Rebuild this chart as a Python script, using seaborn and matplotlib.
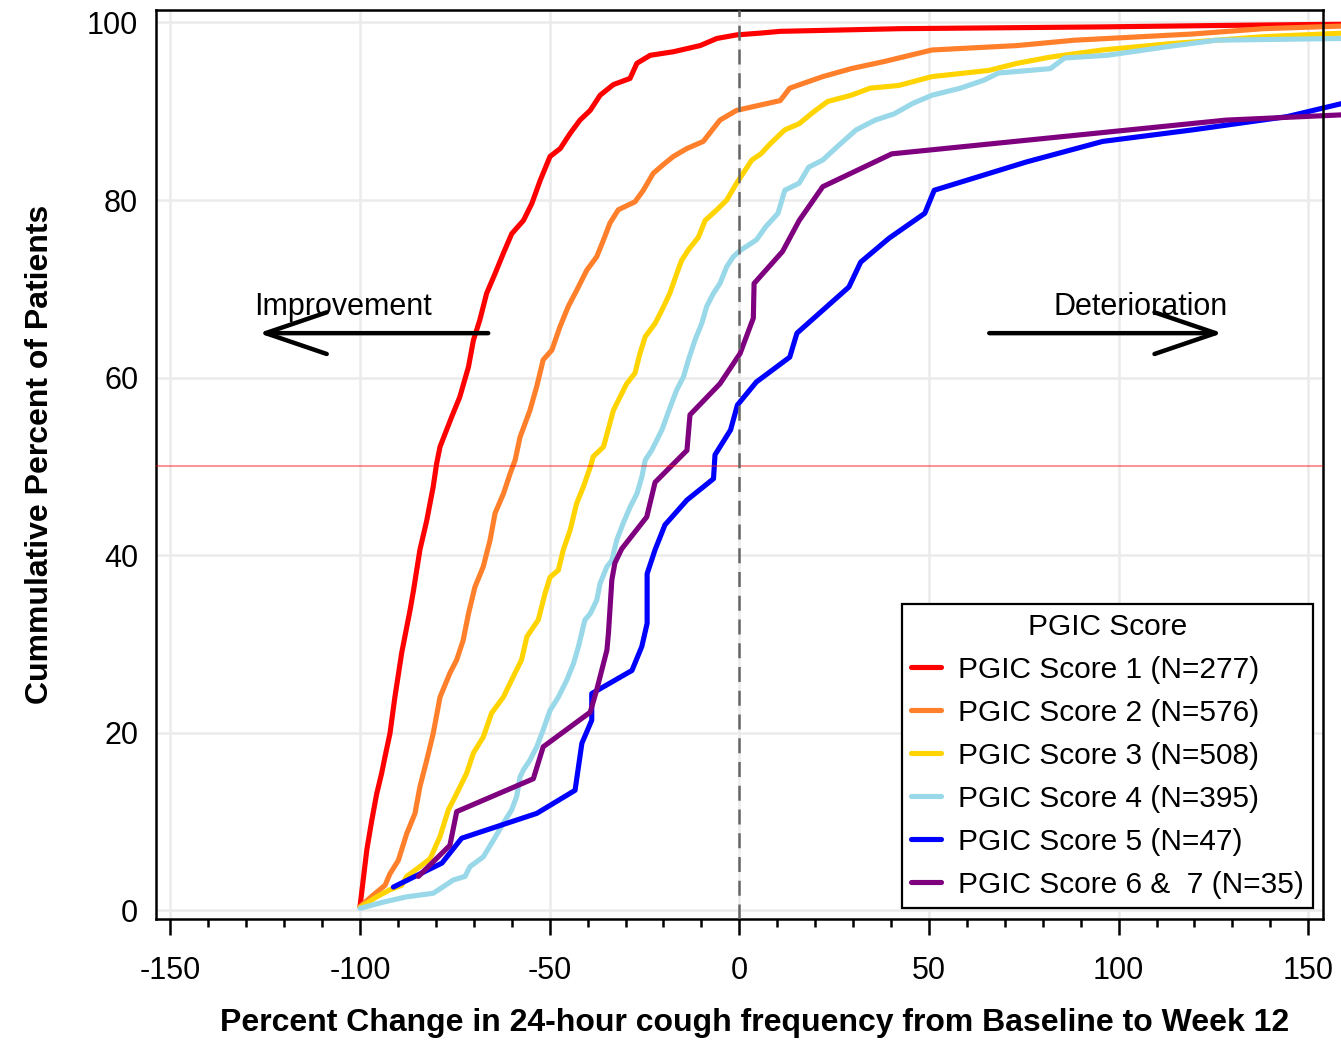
import numpy as np
import pandas as pd
import matplotlib
matplotlib.use("Agg")
import matplotlib.pyplot as plt
import seaborn as sns
from matplotlib.ticker import MultipleLocator

# Cumulative distribution of percent change in 24-hour cough frequency,
# by PGIC score group (x = percent change, y = cumulative percent of patients)
groups = [
    "PGIC Score 1 (N=277)",
    "PGIC Score 2 (N=576)",
    "PGIC Score 3 (N=508)",
    "PGIC Score 4 (N=395)",
    "PGIC Score 5 (N=47)",
    "PGIC Score 6 &  7 (N=35)",
]
colors = ["#FF0000", "#FF7F2A", "#FFD400", "#99D8E8", "#0000FF", "#7F007F"]

score1_x = [-100.0, -98.2, -96.9, -95.6, -94.3, -93.4, -92.1, -90.8, -89.0, -86.8, -85.9, -84.2,
            -82.4, -80.7, -79.8, -78.9, -75.8, -73.7, -71.4, -70.1, -68.4, -66.6, -64.4, -62.2,
            -60.0, -56.9, -54.7, -52.5, -49.9, -47.2, -44.6, -42.0, -39.3, -36.7, -33.2, -28.8,
            -27.0, -23.5, -17.4, -10.3, -5.9, -0.7, 5.5, 10.8, 42.4, 95.1, 134.7, 158.7]
score1_y = [0.4, 6.8, 10.1, 13.1, 15.4, 17.3, 19.9, 24.0, 29.0, 33.8, 36.0, 40.6,
            43.9, 47.7, 50.3, 52.2, 55.6, 57.8, 61.2, 64.2, 66.5, 69.5, 71.7, 74.0,
            76.2, 77.7, 79.6, 82.2, 84.9, 85.8, 87.5, 89.0, 90.1, 91.8, 93.0, 93.7,
            95.4, 96.3, 96.7, 97.4, 98.2, 98.6, 98.8, 99.0, 99.3, 99.5, 99.7, 99.8]

score2_x = [-100.0, -96.5, -93.4, -92.1, -89.9, -87.7, -85.5, -84.2, -82.4, -80.7, -78.9, -76.3,
            -74.5, -72.8, -71.4, -69.7, -67.5, -65.7, -64.4, -62.2, -60.4, -59.1, -57.8, -55.2,
            -53.4, -51.7, -49.4, -47.3, -45.1, -42.9, -40.2, -37.6, -35.8, -34.1, -31.9, -27.5,
            -25.3, -22.7, -20.0, -17.4, -13.8, -9.5, -5.1, -0.7, 10.8, 13.3, 22.0, 29.5,
            38.2, 50.8, 73.3, 88.3, 119.4, 138.2, 159.3]
score2_y = [0.4, 1.7, 2.8, 4.1, 5.6, 8.6, 10.9, 13.9, 16.9, 19.9, 24.0, 26.7,
            28.2, 30.4, 33.4, 36.4, 38.7, 41.7, 44.7, 46.9, 49.2, 50.7, 53.3, 56.3,
            59.0, 62.0, 63.1, 65.7, 68.0, 69.8, 72.1, 73.6, 75.5, 77.4, 78.9, 79.8,
            81.1, 83.0, 84.0, 84.9, 85.8, 86.6, 89.0, 90.1, 91.2, 92.6, 93.9, 94.8,
            95.6, 96.9, 97.4, 98.0, 98.7, 99.3, 99.6]

score3_x = [-100.0, -95.6, -92.1, -89.0, -87.7, -84.2, -81.5, -78.9, -76.7, -74.9, -71.9, -70.1,
            -67.5, -65.3, -62.2, -59.6, -57.4, -56.0, -53.0, -51.2, -49.9, -47.7, -46.4, -44.6,
            -42.9, -41.1, -39.3, -38.5, -35.8, -33.2, -29.7, -27.5, -26.2, -24.8, -22.2, -20.4,
            -18.3, -16.5, -15.2, -13.4, -10.8, -9.0, -5.9, -3.3, -0.7, 3.3, 5.7, 8.3,
            12.0, 15.8, 19.5, 23.3, 29.5, 34.5, 42.0, 50.8, 65.8, 73.3, 82.0, 95.7,
            113.3, 125.7, 138.3, 159.2]
score3_y = [0.3, 1.5, 2.3, 2.8, 3.8, 4.9, 5.8, 8.3, 11.3, 12.8, 15.4, 17.7,
            19.5, 22.2, 24.0, 26.3, 28.2, 30.8, 32.7, 35.7, 37.5, 38.3, 40.6, 42.8,
            45.8, 47.7, 49.9, 51.1, 52.2, 56.3, 59.3, 60.5, 62.7, 64.6, 66.1, 67.6,
            69.5, 71.7, 73.2, 74.4, 75.8, 77.7, 78.9, 80.0, 81.9, 84.5, 85.2, 86.4,
            87.9, 88.6, 89.9, 91.1, 91.8, 92.6, 92.9, 93.9, 94.6, 95.4, 96.1, 96.9,
            97.6, 98.0, 98.4, 98.8]

score4_x = [-100.0, -93.9, -87.7, -80.7, -78.9, -75.4, -72.3, -71.0, -67.5, -64.8, -62.2, -60.0,
            -58.7, -57.8, -56.9, -55.2, -53.4, -51.7, -49.9, -47.7, -45.5, -43.7, -42.4, -40.7,
            -39.3, -37.6, -36.7, -34.9, -33.6, -32.3, -30.6, -28.8, -27.0, -25.7, -24.8, -23.1,
            -20.4, -18.2, -16.5, -14.7, -13.4, -11.7, -9.9, -8.6, -6.8, -5.1, -3.3, -1.6,
            0.2, 4.5, 7.0, 10.2, 12.0, 15.8, 18.3, 22.0, 25.8, 30.8, 35.8, 40.8,
            45.8, 50.8, 58.3, 64.5, 68.3, 82.0, 85.8, 97.0, 113.3, 125.7, 159.2]
score4_y = [0.2, 0.9, 1.5, 1.9, 2.4, 3.4, 3.8, 4.9, 6.0, 7.9, 9.8, 11.3,
            12.8, 15.0, 15.8, 16.9, 18.4, 20.3, 22.5, 24.0, 25.9, 27.8, 29.7, 32.7,
            33.4, 34.9, 36.8, 38.7, 39.4, 41.7, 43.6, 45.4, 46.9, 48.8, 50.7, 51.8,
            54.1, 56.7, 58.6, 60.1, 62.0, 64.2, 66.1, 68.0, 69.5, 70.6, 72.5, 73.6,
            74.3, 75.5, 77.0, 78.5, 81.1, 81.9, 83.7, 84.5, 86.0, 87.9, 89.0, 89.7,
            90.9, 91.8, 92.6, 93.5, 94.3, 94.8, 96.0, 96.3, 97.3, 98.0, 98.2]

score5_x = [-91.2, -78.4, -73.2, -53.4, -43.3, -41.5, -38.9, -38.9, -28.3, -25.7, -24.3, -24.3,
            -22.2, -19.6, -13.8, -6.8, -6.4, -2.3, -0.5, 4.5, 13.3, 15.2, 28.9, 32.0,
            39.5, 48.9, 51.4, 75.8, 95.8, 119.5, 144.5, 159.2]
score5_y = [2.6, 5.3, 8.1, 10.9, 13.5, 18.8, 21.4, 24.4, 27.0, 29.7, 32.3, 37.9,
            40.6, 43.4, 46.2, 48.6, 51.3, 54.1, 56.9, 59.5, 62.3, 65.0, 70.2, 73.0,
            75.7, 78.5, 81.1, 84.3, 86.6, 87.9, 89.4, 90.9]

score67_x = [-84.6, -76.3, -74.5, -54.3, -51.7, -39.3, -37.6, -34.9, -34.5, -33.6, -32.8, -31.0,
             -24.4, -22.2, -13.8, -13.0, -5.1, 0.2, 3.7, 3.9, 11.4, 15.8, 22.0, 40.2,
             128.3, 159.2]
score67_y = [3.8, 7.3, 11.1, 14.8, 18.4, 22.3, 24.8, 29.3, 31.2, 37.2, 39.1, 40.7,
             44.3, 48.2, 51.8, 55.8, 59.3, 62.7, 66.7, 70.6, 74.2, 77.7, 81.5, 85.2,
             89.0, 89.6]

x_ticks = [-150, -100, -50, 0, 50, 100, 150]
y_ticks = [0, 20, 40, 60, 80, 100]

series_x = [score1_x, score2_x, score3_x, score4_x, score5_x, score67_x]
series_y = [score1_y, score2_y, score3_y, score4_y, score5_y, score67_y]

frames = []
for name, xs, ys in zip(groups, series_x, series_y):
    frames.append(pd.DataFrame({"change": xs, "cum_pct": ys, "PGIC Score": name}))
df = pd.concat(frames, ignore_index=True)

sns.set_theme(style="white", rc={
    "axes.edgecolor": "black",
    "axes.labelcolor": "black",
    "text.color": "black",
    "xtick.color": "black",
    "ytick.color": "black",
    "axes.unicode_minus": False,
})
plt.rcParams["font.family"] = ["Liberation Sans", "DejaVu Sans"]

fig = plt.figure(figsize=(13.41, 10.46), dpi=100)
ax = fig.add_axes([0.116, 0.1214, 0.8706, 0.869])

sns.lineplot(data=df, x="change", y="cum_pct", hue="PGIC Score",
             palette=dict(zip(groups, colors)), hue_order=groups,
             sort=False, estimator=None, linewidth=3.7, ax=ax)
for ln in ax.lines:
    ln.set_clip_on(False)

# reference lines: median and no-change
ax.axhline(50, color="#FF0000", alpha=0.5, lw=1.2, zorder=5)
ax.axvline(0, color="#666666", lw=1.8, dashes=(6, 3.5), zorder=5)

ax.set_xlim(-153.9, 153.9)
ax.set_ylim(-1.0, 101.4)
ax.set_xticks(x_ticks)
ax.set_yticks(y_ticks)
ax.xaxis.set_minor_locator(MultipleLocator(10))
ax.grid(True, which="major", color="#ebebeb", lw=1.8)
ax.set_axisbelow(True)

ax.tick_params(axis="x", which="major", bottom=True, direction="out",
               length=11.5, width=1.8, pad=15, labelsize=22)
ax.tick_params(axis="x", which="minor", bottom=True, direction="out",
               length=6, width=1.8)
ax.tick_params(axis="y", which="both", left=False, length=0, pad=12.5, labelsize=22)
for sp in ax.spines.values():
    sp.set_visible(True)
    sp.set_color("black")
    sp.set_linewidth(1.8)

ax.set_xlabel("Percent Change in 24-hour cough frequency from Baseline to Week 12",
              fontsize=23, fontweight="bold")
ax.set_ylabel("Cummulative Percent of Patients", fontsize=23, fontweight="bold")
ax.xaxis.set_label_coords(0.5135, -0.098)
ax.yaxis.set_label_coords(-0.086, 0.5116)

# direction annotations
ax.text(-104.5, 67.0, "Improvement", ha="center", va="baseline", fontsize=22)
ax.text(105.7, 67.0, "Deterioration", ha="center", va="baseline", fontsize=22)
arrow_kw = dict(arrowstyle="->,head_length=44,head_width=15", lw=3.2, color="black",
                shrinkA=0, shrinkB=0, mutation_scale=1)
ax.annotate("", xy=(-126.7, 65.0), xytext=(-66.2, 65.0), arrowprops=arrow_kw)
ax.annotate("", xy=(127.4, 65.0), xytext=(65.9, 65.0), arrowprops=arrow_kw)

handles, labels = ax.get_legend_handles_labels()
for h in handles:
    h.set_linewidth(3.7)
leg = ax.legend(handles, labels, title="PGIC Score", loc="upper left",
                bbox_to_anchor=(901.7 / 1341, 1 - 604 / 1046), bbox_transform=fig.transFigure,
                borderaxespad=0, fontsize=21.5, title_fontsize=21.5, frameon=True,
                fancybox=False, edgecolor="black", framealpha=1, handlelength=1.0,
                handletextpad=0.6, labelspacing=0.5, borderpad=0.3)
leg.get_frame().set_linewidth(1.6)
leg.set_zorder(10)

fig.savefig("out.png", dpi=100)
